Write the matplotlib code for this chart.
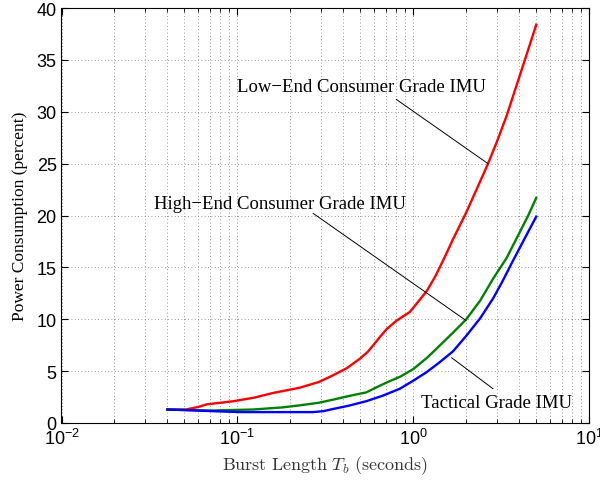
import matplotlib
matplotlib.use('Agg')
import matplotlib.pyplot as plt

# burst length (s) and power consumption (%) for each IMU grade
t_low = [0.04, 0.051, 0.06, 0.067, 0.08, 0.095, 0.125, 0.16, 0.226, 0.29, 0.35, 0.42, 0.497, 0.55, 0.592, 0.65, 0.705, 0.80, 0.955,
         1.09, 1.19, 1.33, 1.5, 1.68, 2.0, 2.3, 2.66, 3.0, 3.39, 4.03, 4.5, 5.0]
p_low = [1.3, 1.3, 1.55, 1.8, 1.95, 2.1, 2.45, 2.9, 3.4, 3.95, 4.6, 5.3, 6.2, 6.85, 7.5, 8.35, 9.05, 9.85, 10.7,
         11.9, 12.7, 14.1, 15.9, 17.7, 20.3, 22.6, 25.0, 27.2, 29.6, 33.5, 36.0, 38.4]

t_high = [0.04, 0.07, 0.123, 0.18, 0.226, 0.29, 0.35, 0.43, 0.54, 0.62, 0.705, 0.85, 1.0, 1.2, 1.41, 1.68, 2.0, 2.4, 2.84,
          3.39, 4.03, 4.5, 5.0]
p_high = [1.3, 1.2, 1.3, 1.5, 1.7, 1.95, 2.25, 2.6, 2.95, 3.45, 3.9, 4.5, 5.2, 6.3, 7.45, 8.7, 10.0, 11.8, 13.9,
          15.9, 18.4, 20.0, 21.7]

t_tac = [0.04, 0.07, 0.103, 0.20, 0.27, 0.31, 0.35, 0.43, 0.54, 0.67, 0.838, 1.0, 1.19, 1.41, 1.68, 2.0, 2.4, 2.84, 3.2,
         3.65, 4.3, 5.0]
p_tac = [1.3, 1.15, 1.05, 1.05, 1.05, 1.15, 1.35, 1.67, 2.1, 2.63, 3.3, 4.08, 4.9, 5.85, 6.9, 8.4, 10.1, 12.0, 13.6,
         15.5, 17.8, 19.9]

plt.rcParams['mathtext.fontset'] = 'cm'

fig = plt.figure(figsize=(6, 4.85), dpi=100)
ax = fig.add_axes([0.1025, 0.1258, 0.8795, 0.8555])

ax.plot(t_low, p_low, color=(1, 0, 0), lw=1.7)
ax.plot(t_high, p_high, color=(0, 0.5, 0), lw=1.7)
ax.plot(t_tac, p_tac, color=(0, 0, 1), lw=1.7)

ax.set_xscale('log')
ax.set_xlim(1e-2, 1e1)
ax.set_ylim(0, 40)
ax.set_yticks(range(0, 41, 5))

ax.grid(True, which='major', axis='both', linestyle=(0, (1, 3)), color='#777777', lw=0.6)
ax.grid(True, which='minor', axis='x', linestyle=(0, (1, 3)), color='#777777', lw=0.6)
ax.tick_params(which='both', direction='in', top=True, right=True, labelsize=13)
ax.tick_params(which='major', length=5)
ax.tick_params(which='minor', length=3)
for lab in ax.get_xticklabels() + ax.get_yticklabels():
    lab.set_family('Liberation Sans')

serif = 'Liberation Serif'
ax.set_ylabel('Power Consumption (percent)', family=serif, fontsize=12.5, labelpad=6)
ax.set_xlabel(r'$\mathrm{Burst\ Length}\ T_b\ \mathrm{(seconds)}$', fontsize=13, color='#333333', labelpad=4)

arrow = dict(arrowstyle='-', color='black', lw=0.7, shrinkA=0, shrinkB=0)
ax.annotate('', xy=(2.66, 25.0), xytext=(0.80, 31.2), arrowprops=arrow)
ax.annotate('', xy=(2.0, 9.86), xytext=(0.27, 20.2), arrowprops=arrow)
ax.annotate('', xy=(2.84, 3.3), xytext=(1.65, 6.3), arrowprops=arrow)

ax.text(0.51, 32.4, 'Low\u2212End Consumer Grade IMU', family=serif, fontsize=13.5, ha='center', va='center')
ax.text(0.175, 21.2, 'High\u2212End Consumer Grade IMU', family=serif, fontsize=13.5, ha='center', va='center')
ax.text(2.97, 2.0, 'Tactical Grade IMU', family=serif, fontsize=13.5, ha='center', va='center')

fig.savefig('out.png', dpi=100)
